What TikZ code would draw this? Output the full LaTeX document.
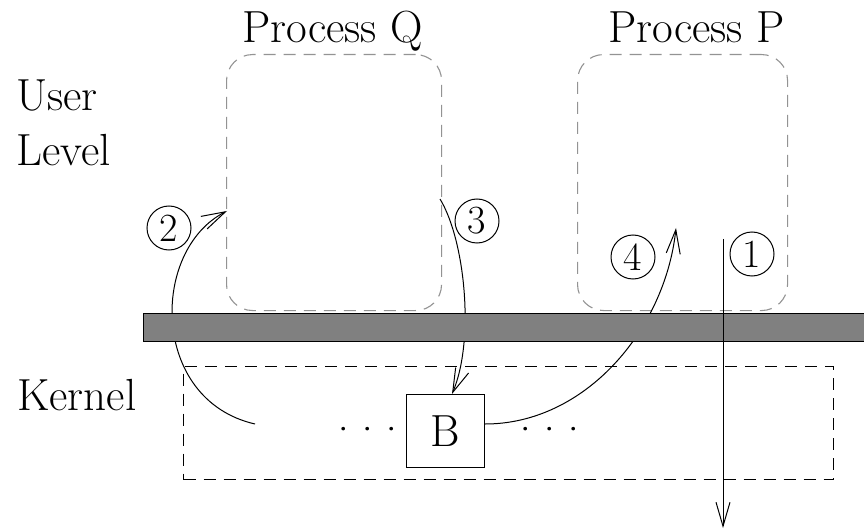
\documentclass[tikz,border=0pt]{standalone}
\usetikzlibrary{arrows.meta}
\newcommand{\mydot}{\makebox[0pt]{·}}
\begin{document}
\begin{tikzpicture}[x=1pt,y=-1pt,
  lbl/.style={font=\rmfamily\fontsize{45}{48}\selectfont, inner sep=0pt, anchor=base west},
  procbox/.style={draw=gray!85, dash pattern=on 12pt off 8pt, rounded corners=26pt, line width=1.1pt, inner sep=0pt, anchor=north west},
  kernbox/.style={draw, dash pattern=on 12pt off 8pt, line width=1.1pt, inner sep=0pt, anchor=north west},
  num/.style={circle, draw, line width=1pt, minimum size=44pt, inner sep=0pt, font=\rmfamily\fontsize{40}{40}\selectfont},
  dots/.style={font=\rmfamily\fontsize{45}{48}\selectfont, inner sep=0pt},
  flow/.style={line width=1pt, -{Straight Barb[length=24pt,width=14pt]}},
]
\useasboundingbox (0,0) rectangle (864,529);

% labels
\node[lbl] (pq) at (242,43) {Process Q};
\node[lbl] (pp) at (608,43) {Process P};
\node[lbl] (user) at (16,111) {User};
\node[lbl] (level) at (16,166) {Level};
\node[lbl] (kernel) at (17,410) {Kernel};

% process boxes
\node[procbox, minimum width=215pt, minimum height=256pt] (Q) at (226,54) {};
\node[procbox, minimum width=210pt, minimum height=256pt] (P) at (577,54) {};

% kernel box
\node[kernbox, minimum width=650pt, minimum height=113pt] (K) at (183,366) {};
\node[draw, line width=1.1pt, inner sep=0pt, anchor=north west, minimum width=78pt, minimum height=73pt, font=\rmfamily\fontsize{45}{48}\selectfont] (B) at (406,394) {\raisebox{-4pt}{B}};
\node[dots] (dl) at (368,436) {\mydot\hspace{24pt}\mydot\hspace{24pt}\mydot};
\node[dots] (dr) at (550,436) {\mydot\hspace{24pt}\mydot\hspace{24pt}\mydot};

% arrows hidden by the bar
\coordinate (a2s) at (255,424);
\coordinate (a2e) at (227,211);
\draw[flow] (a2s) .. controls (150,400) and (150,250) .. (a2e);
\coordinate (a3s) at (440,199);
\draw[flow] (a3s) .. controls (465,240) and (475,340) .. (B.north west -| 452,0);
\coordinate (a4e) at (676,228);
\draw[flow] (B.east |- 0,424) .. controls (585,424) and (665,330) .. (a4e);

% bar
\node[fill=gray, draw, line width=1.2pt, inner sep=0pt, anchor=north west, minimum width=725pt, minimum height=28pt] (bar) at (143,313) {};

% arrow 1 over the bar
\coordinate (a1s) at (723,239);
\coordinate (a1e) at (723,528);
\draw[flow] (a1s) -- (a1e);

% step numbers
\node[num] (n1) at (752,254) {1};
\node[num] (n2) at (169,228) {2};
\node[num] (n3) at (477,221) {3};
\node[num] (n4) at (633,257) {4};
\end{tikzpicture}
\end{document}
